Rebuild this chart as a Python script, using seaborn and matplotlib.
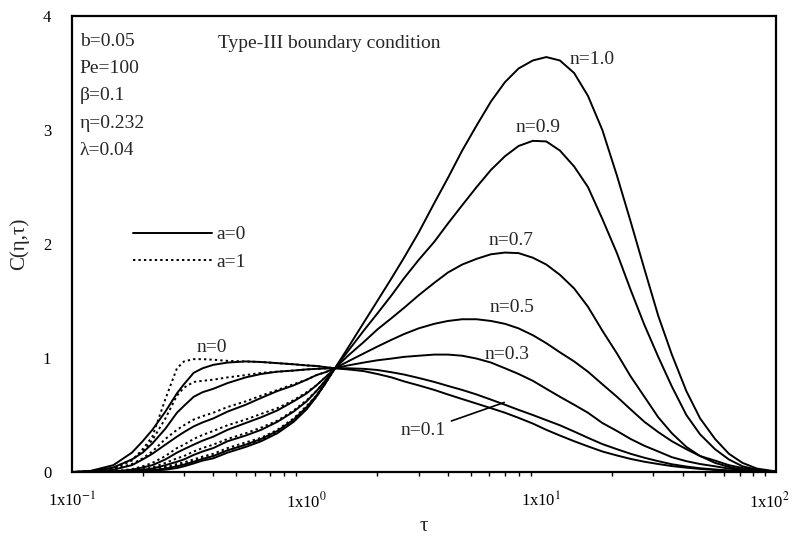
import numpy as np
import pandas as pd
import matplotlib
matplotlib.use("Agg")
import matplotlib.pyplot as plt
from matplotlib.lines import Line2D
from matplotlib.ticker import LogLocator, NullFormatter
from matplotlib.transforms import ScaledTranslation
import seaborn as sns

# dimensionless time grid
t_grid = [0.1, 0.12, 0.15, 0.18, 0.2, 0.22, 0.25, 0.28, 0.3, 0.33,
          0.36, 0.4, 0.46, 0.55, 0.64, 0.75, 0.88, 1.0, 1.1, 1.2,
          1.32,
          1.5, 1.75, 2.0, 2.3, 2.6, 3.0, 3.5, 4.0, 4.6, 5.3,
          6.1, 7.0, 8.0, 9.2, 10.5, 12, 13.8, 15.8, 18.2, 21,
          24, 27.5, 31.5, 36, 41.5, 47.5, 55, 63, 72, 83,
          100]

# C(eta, tau) for a = 0 (solid curves)
c_a0_n00 = [0.0, 0.01, 0.06, 0.17, 0.27, 0.37, 0.53, 0.69, 0.77, 0.87,
            0.91, 0.94, 0.96, 0.97, 0.965, 0.955, 0.945, 0.935, 0.93, 0.92,
            0.91,
            0.90, 0.885, 0.86, 0.83, 0.795, 0.76, 0.72, 0.68, 0.64, 0.60,
            0.56, 0.52, 0.475, 0.425, 0.37, 0.32, 0.27, 0.225, 0.18, 0.145,
            0.115, 0.09, 0.07, 0.052, 0.038, 0.027, 0.018, 0.011, 0.006, 0.003,
            0.001]
c_a0_n01 = [0.0, 0.005, 0.04, 0.11, 0.17, 0.25, 0.38, 0.52, 0.58, 0.66,
            0.70, 0.73, 0.78, 0.83, 0.86, 0.88, 0.89, 0.90, 0.905, 0.908,
            0.91,
            0.91, 0.905, 0.895, 0.875, 0.855, 0.825, 0.79, 0.755, 0.72, 0.68,
            0.635, 0.59, 0.545, 0.50, 0.455, 0.41, 0.355, 0.30, 0.245, 0.20,
            0.16, 0.125, 0.095, 0.068, 0.048, 0.033, 0.022, 0.013, 0.007, 0.003,
            0.001]
c_a0_n03 = [0.0, 0.002, 0.02, 0.06, 0.11, 0.16, 0.24, 0.31, 0.35, 0.40,
            0.435, 0.47, 0.53, 0.59, 0.65, 0.71, 0.76, 0.81, 0.85, 0.875,
            0.91,
            0.935, 0.96, 0.98, 0.995, 1.01, 1.02, 1.03, 1.03, 1.02, 0.995,
            0.96, 0.91, 0.86, 0.80, 0.73, 0.66, 0.59, 0.52, 0.43, 0.36,
            0.29, 0.23, 0.18, 0.13, 0.095, 0.07, 0.05, 0.03, 0.018, 0.008,
            0.002]
c_a0_n05 = [0.0, 0.0, 0.005, 0.02, 0.04, 0.06, 0.11, 0.17, 0.20, 0.24,
            0.275, 0.31, 0.37, 0.43, 0.48, 0.54, 0.62, 0.69, 0.76, 0.83,
            0.91,
            0.97, 1.04, 1.10, 1.16, 1.21, 1.26, 1.30, 1.325, 1.34, 1.34,
            1.325, 1.30, 1.26, 1.20, 1.13, 1.05, 0.97, 0.88, 0.77, 0.66,
            0.55, 0.44, 0.35, 0.27, 0.20, 0.14, 0.10, 0.06, 0.035, 0.015,
            0.004]
c_a0_n07 = [0.0, 0.0, 0.002, 0.01, 0.02, 0.03, 0.06, 0.09, 0.11, 0.15,
            0.18, 0.21, 0.27, 0.32, 0.37, 0.44, 0.53, 0.62, 0.71, 0.80,
            0.91,
            1.02, 1.14, 1.25, 1.35, 1.44, 1.55, 1.66, 1.75, 1.82, 1.87,
            1.91, 1.925, 1.92, 1.88, 1.82, 1.73, 1.61, 1.45, 1.24, 1.04,
            0.84, 0.66, 0.48, 0.34, 0.22, 0.14, 0.08, 0.045, 0.02, 0.008,
            0.002]
c_a0_n09 = [0.0, 0.0, 0.001, 0.005, 0.01, 0.015, 0.03, 0.05, 0.065, 0.09,
            0.115, 0.14, 0.19, 0.24, 0.29, 0.36, 0.46, 0.57, 0.67, 0.78,
            0.91,
            1.06, 1.24, 1.39, 1.55, 1.70, 1.86, 2.02, 2.18, 2.34, 2.50,
            2.65, 2.77, 2.86, 2.905, 2.90, 2.82, 2.68, 2.50, 2.22, 1.92,
            1.60, 1.29, 1.01, 0.75, 0.50, 0.33, 0.20, 0.11, 0.05, 0.02,
            0.004]
c_a0_n10 = [0.0, 0.0, 0.0, 0.003, 0.007, 0.012, 0.02, 0.035, 0.05, 0.075,
            0.10, 0.12, 0.17, 0.22, 0.27, 0.34, 0.44, 0.55, 0.66, 0.775,
            0.91,
            1.09, 1.31, 1.50, 1.70, 1.88, 2.10, 2.36, 2.58, 2.82, 3.04,
            3.25, 3.42, 3.54, 3.61, 3.64, 3.61, 3.50, 3.30, 3.00, 2.60,
            2.20, 1.78, 1.37, 1.03, 0.71, 0.47, 0.29, 0.16, 0.08, 0.03,
            0.005]

# a = 1 (dotted curves) differ only before the common crossing point
t_early = t_grid[:21]
c_a1_n00 = [0.0, 0.005, 0.03, 0.10, 0.20, 0.31, 0.64, 0.91, 0.97, 0.99,
            0.99, 0.985, 0.975, 0.97, 0.965, 0.955, 0.945, 0.935, 0.93, 0.92,
            0.91]
c_a1_n01 = [0.0, 0.004, 0.035, 0.11, 0.18, 0.28, 0.47, 0.67, 0.74, 0.79,
            0.80, 0.81, 0.83, 0.85, 0.87, 0.88, 0.89, 0.90, 0.905, 0.908,
            0.91]
c_a1_n03 = [0.0, 0.002, 0.025, 0.07, 0.12, 0.18, 0.29, 0.37, 0.41, 0.46,
            0.49, 0.52, 0.57, 0.62, 0.67, 0.72, 0.77, 0.81, 0.85, 0.875,
            0.91]
c_a1_n05 = [0.0, 0.0, 0.006, 0.025, 0.05, 0.08, 0.14, 0.21, 0.24, 0.29,
            0.325, 0.36, 0.41, 0.46, 0.51, 0.56, 0.63, 0.70, 0.76, 0.83,
            0.91]
c_a1_n07 = [0.0, 0.0, 0.003, 0.012, 0.025, 0.04, 0.08, 0.12, 0.14, 0.18,
            0.21, 0.24, 0.29, 0.34, 0.39, 0.45, 0.54, 0.63, 0.71, 0.80,
            0.91]
c_a1_n09 = [0.0, 0.0, 0.001, 0.006, 0.012, 0.02, 0.045, 0.07, 0.085, 0.11,
            0.135, 0.16, 0.21, 0.26, 0.30, 0.37, 0.47, 0.58, 0.67, 0.78,
            0.91]
c_a1_n10 = [0.0, 0.0, 0.0, 0.004, 0.009, 0.016, 0.035, 0.055, 0.07, 0.095,
            0.12, 0.14, 0.19, 0.24, 0.28, 0.35, 0.45, 0.56, 0.66, 0.775,
            0.91]

n_values = ["0", "0.1", "0.3", "0.5", "0.7", "0.9", "1.0"]
curves_a0 = [c_a0_n00, c_a0_n01, c_a0_n03, c_a0_n05, c_a0_n07, c_a0_n09, c_a0_n10]
curves_a1 = [c_a1_n00, c_a1_n01, c_a1_n03, c_a1_n05, c_a1_n07, c_a1_n09, c_a1_n10]

x_tick_values = [0.1, 1, 10, 100]
x_tick_labels = ["1x10$^{-1}$", "1x10$^{0}$", "1x10$^{1}$", "1x10$^{2}$"]
y_tick_values = [0, 1, 2, 3, 4]

params_text = ["b=0.05", "Pe=100", "\u03b2=0.1", "\u03b7=0.232", "\u03bb=0.04"]

rows = []
for n, vals in zip(n_values, curves_a1):
    for t, c in zip(t_early, vals):
        rows.append({"t": t, "C": c, "n": n, "a": "a=1"})
for n, vals in zip(n_values, curves_a0):
    for t, c in zip(t_grid, vals):
        rows.append({"t": t, "C": c, "n": n, "a": "a=0"})
df = pd.DataFrame(rows)

sns.set_theme(style="white")
plt.rcParams["font.family"] = ["Liberation Serif", "DejaVu Serif"]
plt.rcParams["mathtext.fontset"] = "stix"

fig = plt.figure(figsize=(7.94, 5.36), dpi=100)
ax = fig.add_axes([0.0907, 0.1194, 0.8866, 0.8507])

sns.lineplot(data=df, x="t", y="C", style="a", units="n", estimator=None,
             style_order=["a=0", "a=1"], dashes={"a=0": "", "a=1": (1.2, 1.6)},
             color="black", linewidth=1.4, legend=False, sort=False, ax=ax)

ax.set_xscale("log")
ax.set_xlim(0.1, 100)
ax.set_ylim(0, 4)

ax.set_xticks(x_tick_values)
ax.set_xticklabels(x_tick_labels)
ax.xaxis.set_minor_locator(LogLocator(base=10, subs=np.arange(2, 10)))
ax.xaxis.set_minor_formatter(NullFormatter())
ax.set_yticks(y_tick_values)
ax.set_yticklabels([str(v) for v in y_tick_values])

ax.tick_params(axis="both", which="major", direction="out", length=5,
               width=1.2, color="black", labelsize=12, labelcolor="black")
ax.tick_params(axis="x", which="major", pad=9)
ax.tick_params(axis="y", which="major", pad=10)
ax.tick_params(axis="x", which="minor", direction="out", length=3,
               width=1.0, color="black", bottom=True)

# keep the last decade label inside the canvas
last_label = ax.get_xticklabels()[-1]
last_label.set_transform(last_label.get_transform()
                         + ScaledTranslation(-5 / 72, 0, fig.dpi_scale_trans))

for side in ["left", "right", "top", "bottom"]:
    ax.spines[side].set_color("black")
    ax.spines[side].set_linewidth(1.6)

ax.set_xlabel("\u03c4", fontsize=15, labelpad=4)
ax.set_ylabel("C(\u03b7,\u03c4)", fontsize=15, labelpad=10)

# parameter block
for i, s in enumerate(params_text):
    ax.text(0.011, 0.945 - i * 0.0599, s, transform=ax.transAxes,
            fontsize=14, ha="left", va="center")
ax.text(0.208, 0.939, "Type-III boundary condition", transform=ax.transAxes,
        fontsize=14, ha="left", va="center")

# curve labels
label_font = 14
ax.text(13.2, 3.62, "n=1.0", fontsize=label_font, ha="left", va="center")
ax.text(9.7, 3.02, "n=0.9", fontsize=label_font, ha="center", va="center")
ax.text(7.45, 2.035, "n=0.7", fontsize=label_font, ha="center", va="center")
ax.text(7.5, 1.44, "n=0.5", fontsize=label_font, ha="center", va="center")
ax.text(7.16, 1.035, "n=0.3", fontsize=label_font, ha="center", va="center")
ax.text(0.396, 1.09, "n=0", fontsize=label_font, ha="center", va="center")
ax.annotate("n=0.1", xy=(6.95, 0.61), xytext=(3.13, 0.36),
            fontsize=label_font, ha="center", va="center",
            arrowprops=dict(arrowstyle="-", color="black", lw=1.2,
                            shrinkA=2, shrinkB=0))

handles = [Line2D([], [], color="black", lw=1.4),
           Line2D([], [], color="black", lw=1.4, dashes=(1.2, 1.6))]
ax.legend(handles, ["a=0", "a=1"], loc="upper left",
          bbox_to_anchor=(0.086, 0.54), frameon=False, fontsize=14,
          handlelength=4.1, handletextpad=0.2, labelspacing=0.5,
          borderpad=0, borderaxespad=0)

fig.savefig("out.png", dpi=100, facecolor="white")
